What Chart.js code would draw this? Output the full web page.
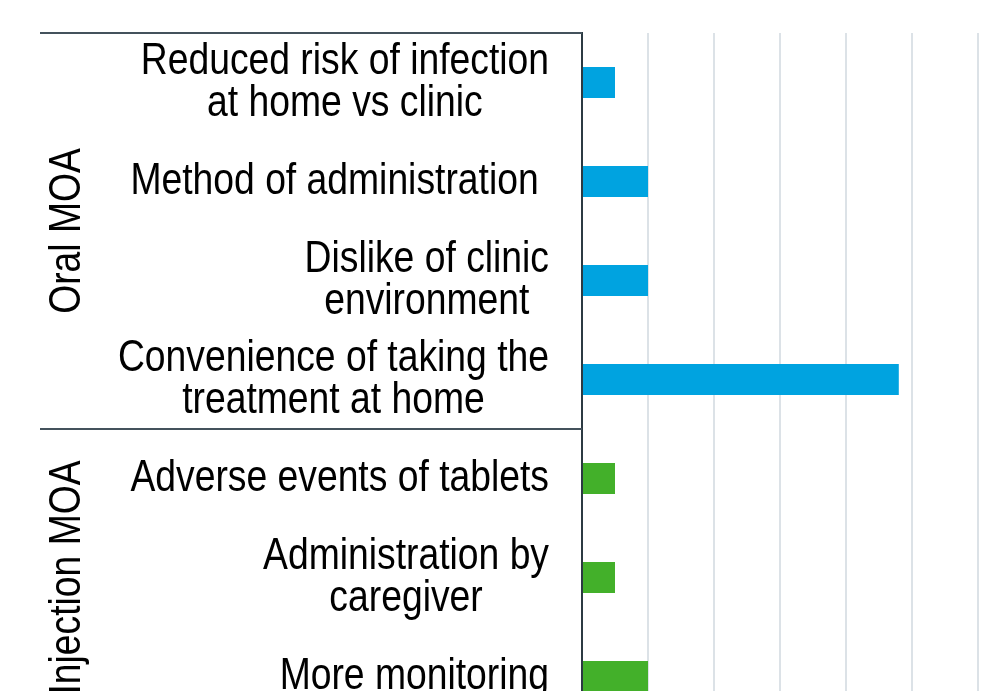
<!DOCTYPE html>
<html>
<head>
<meta charset="utf-8">
<script src="https://cdn.jsdelivr.net/npm/chart.js@4.4.1/dist/chart.umd.min.js"></script>
<style>
  html, body { margin: 0; padding: 0; background: #ffffff; overflow: hidden; }
  #wrap { position: relative; width: 988px; height: 760px; }
</style>
</head>
<body>
<div id="wrap"><canvas id="c" width="988" height="760"></canvas></div>
<script>
// ---- data ----
const categories = [
  ["Reduced risk of infection", "at home vs clinic"],
  ["Method of administration "],
  ["Dislike of clinic", "environment"],
  ["Convenience of taking the", "treatment at home"],
  ["Adverse events of tablets"],
  ["Administration by", "caregiver"],
  ["More monitoring"]
];
const values = [5, 10, 10, 48, 5, 5, 10];
const groupNames = ["Oral MOA", "Injection MOA"];
const groupSizes = [4, 3];
const groupColors = ["#00a3e0", "#43b02a"];
const xTicksMin = 0, xTicksMax = 60, xTickStep = 10;

// ---- font handling: Arial-metric sans, horizontally condensed ----
const FAMILY = '"Liberation Sans", Arial, sans-serif';
const SX = 0.857;
const FONT_SIZE = 43.5;
const LINE_H = 42;

// bar colours from group membership
const barColors = [];
groupSizes.forEach((n, g) => { for (let i = 0; i < n; i++) barColors.push(groupColors[g]); });

const labelPlugin = {
  id: 'labelPlugin',
  afterDraw(chart) {
    const ctx = chart.ctx;
    const y = chart.scales.y;
    const area = chart.chartArea;
    ctx.save();
    ctx.font = FONT_SIZE + 'px ' + FAMILY;
    ctx.fillStyle = '#000000';
    ctx.textBaseline = 'middle';
    ctx.textAlign = 'center';
    const blockRight = area.left - 33;
    categories.forEach((lines, i) => {
      const cy = y.getPixelForTick(i);
      const widths = lines.map(l => ctx.measureText(l).width * SX);
      const bw = Math.max(...widths);
      const cx = blockRight - bw / 2;
      lines.forEach((l, k) => {
        const ly = cy + (k - (lines.length - 1) / 2) * LINE_H;
        ctx.save();
        ctx.translate(cx, ly);
        ctx.scale(SX, 1);
        ctx.fillText(l, 0, 0);
        ctx.restore();
      });
    });

    // group separators and rotated group labels
    ctx.strokeStyle = '#44525c';
    ctx.lineWidth = 2;
    const lineLeft = 40;
    let start = 0;
    const bounds = [];
    groupSizes.forEach((n, g) => {
      const top = start === 0 ? area.top : (y.getPixelForTick(start - 1) + y.getPixelForTick(start)) / 2;
      const end = start + n;
      const bottom = end >= categories.length ? area.bottom : (y.getPixelForTick(end - 1) + y.getPixelForTick(end)) / 2;
      bounds.push([top, bottom]);
      ctx.beginPath();
      ctx.moveTo(lineLeft, Math.round(top));
      ctx.lineTo(area.left, Math.round(top));
      ctx.stroke();
      start = end;
    });
    ctx.textBaseline = 'alphabetic';
    groupNames.forEach((name, g) => {
      const [t, b] = bounds[g];
      ctx.save();
      ctx.translate(80, (t + b) / 2);
      ctx.rotate(-Math.PI / 2);
      ctx.scale(SX, 1);
      ctx.fillText(name, 0, 0);
      ctx.restore();
    });
    ctx.restore();
  }
};

new Chart(document.getElementById('c'), {
  type: 'bar',
  data: {
    labels: categories,
    datasets: [{
      label: 'Reasons',
      data: values,
      backgroundColor: barColors,
      borderWidth: 0,
      barPercentage: 0.313,
      categoryPercentage: 1
    }]
  },
  options: {
    indexAxis: 'y',
    responsive: false,
    animation: false,
    devicePixelRatio: 1,
    layout: { padding: { left: 0, top: 33, right: 10, bottom: 34 } },
    plugins: { legend: { display: false }, tooltip: { enabled: false }, title: { display: false } },
    scales: {
      x: {
        min: xTicksMin, max: xTicksMax,
        ticks: { display: false, stepSize: xTickStep },
        grid: { color: '#dce2e7', lineWidth: 2, drawTicks: false },
        border: { display: false }
      },
      y: {
        z: 1,
        ticks: { display: false },
        grid: { display: false, drawTicks: false },
        border: { display: true, color: '#2c3a43', width: 2 },
        afterFit(scale) { scale.width = 582; }
      }
    }
  },
  plugins: [labelPlugin]
});
</script>
</body>
</html>
